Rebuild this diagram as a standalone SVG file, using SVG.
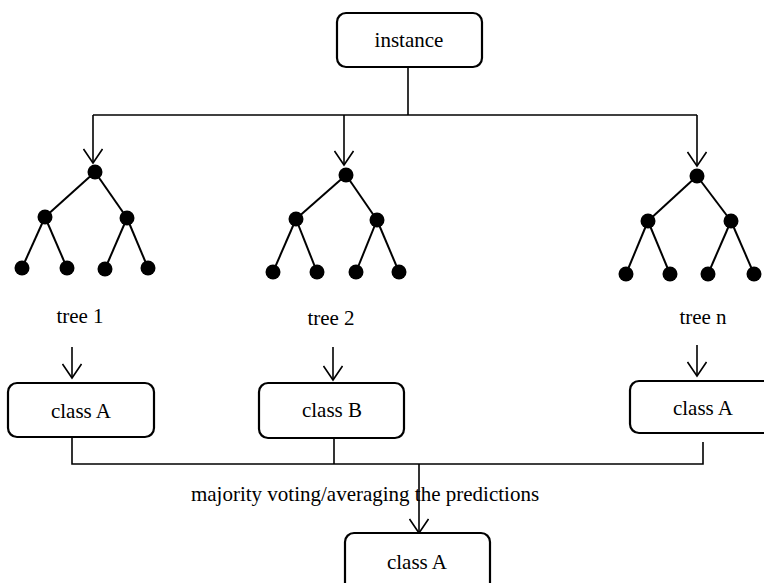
<svg xmlns="http://www.w3.org/2000/svg" width="764" height="583" viewBox="0 0 764 583">
<style>
.box{fill:#fff;stroke:#000;stroke-width:2.2}
.ln{fill:none;stroke:#000;stroke-width:1.6}
.t{font-family:"Liberation Serif","Times New Roman",serif;font-size:21px;fill:#000;text-anchor:middle}
.nd{fill:#000}
.e{stroke:#000;stroke-width:2}
</style>
<defs>
<marker id="arr" viewBox="0 0 20 20" markerWidth="20" markerHeight="20" refX="15" refY="10" orient="auto" markerUnits="userSpaceOnUse">
<path d="M1,0.5 L15,10 L1,19.5" fill="none" stroke="#000" stroke-width="1.6"/>
</marker>
</defs>
<rect width="764" height="583" fill="#fff"/>
<g id="connectors">
<path class="ln" d="M408,67 V115"/>
<path class="ln" d="M93,115 H697"/>
<path class="ln" d="M93,115 V163" marker-end="url(#arr)"/>
<path class="ln" d="M344,115 V165" marker-end="url(#arr)"/>
<path class="ln" d="M697,115 V166" marker-end="url(#arr)"/>
<path class="ln" d="M72,347 V378" marker-end="url(#arr)"/>
<path class="ln" d="M333,347 V380" marker-end="url(#arr)"/>
<path class="ln" d="M697,345 V376" marker-end="url(#arr)"/>
<path class="ln" d="M72,437 V464 H703 V442"/>
<path class="ln" d="M334,438 V464"/>
<path class="ln" d="M419,464 V533" marker-end="url(#arr)"/>
</g>
<g id="instance">
<rect class="box" x="337" y="13" width="145" height="54" rx="9"/>
<text class="t" x="409" y="47">instance</text>
</g>
<g id="tree1">
<g class="e">
<line x1="95" y1="172" x2="45" y2="217"/><line x1="95" y1="172" x2="127" y2="218"/>
<line x1="45" y1="217" x2="22" y2="268"/><line x1="45" y1="217" x2="67" y2="268"/>
<line x1="127" y1="218" x2="105" y2="269"/><line x1="127" y1="218" x2="148" y2="268"/>
</g>
<g class="nd">
<circle cx="95" cy="172" r="7.5"/><circle cx="45" cy="217" r="7.5"/><circle cx="127" cy="218" r="7.5"/>
<circle cx="22" cy="268" r="7.5"/><circle cx="67" cy="268" r="7.5"/><circle cx="105" cy="269" r="7.5"/><circle cx="148" cy="268" r="7.5"/>
</g>
<text class="t" x="80" y="323">tree 1</text>
</g>
<g id="tree2">
<g class="e">
<line x1="346" y1="175" x2="296" y2="219"/><line x1="346" y1="175" x2="377" y2="220"/>
<line x1="296" y1="219" x2="273" y2="272"/><line x1="296" y1="219" x2="317" y2="272"/>
<line x1="377" y1="220" x2="356" y2="272"/><line x1="377" y1="220" x2="399" y2="272"/>
</g>
<g class="nd">
<circle cx="346" cy="175" r="7.5"/><circle cx="296" cy="219" r="7.5"/><circle cx="377" cy="220" r="7.5"/>
<circle cx="273" cy="272" r="7.5"/><circle cx="317" cy="272" r="7.5"/><circle cx="356" cy="272" r="7.5"/><circle cx="399" cy="272" r="7.5"/>
</g>
<text class="t" x="331" y="325">tree 2</text>
</g>
<g id="treen">
<g class="e">
<line x1="697" y1="176" x2="648" y2="221"/><line x1="697" y1="176" x2="731" y2="221"/>
<line x1="648" y1="221" x2="626" y2="274"/><line x1="648" y1="221" x2="670" y2="274"/>
<line x1="731" y1="221" x2="708" y2="274"/><line x1="731" y1="221" x2="754" y2="274"/>
</g>
<g class="nd">
<circle cx="697" cy="176" r="7.5"/><circle cx="648" cy="221" r="7.5"/><circle cx="731" cy="221" r="7.5"/>
<circle cx="626" cy="274" r="7.5"/><circle cx="670" cy="274" r="7.5"/><circle cx="708" cy="274" r="7.5"/><circle cx="754" cy="274" r="7.5"/>
</g>
<text class="t" x="703" y="324">tree n</text>
</g>
<g id="class1">
<rect class="box" x="8" y="383" width="146" height="54" rx="9"/>
<text class="t" x="81" y="418">class A</text>
</g>
<g id="class2">
<rect class="box" x="259" y="383" width="145" height="55" rx="9"/>
<text class="t" x="332" y="417">class B</text>
</g>
<g id="classn">
<rect class="box" x="630" y="381" width="146" height="52" rx="9"/>
<text class="t" x="703" y="415">class A</text>
</g>
<text class="t" x="365" y="501">majority voting/averaging the predictions</text>
<g id="result">
<rect class="box" x="345" y="533" width="145" height="60" rx="9"/>
<text class="t" x="417" y="569">class A</text>
</g>
</svg>
